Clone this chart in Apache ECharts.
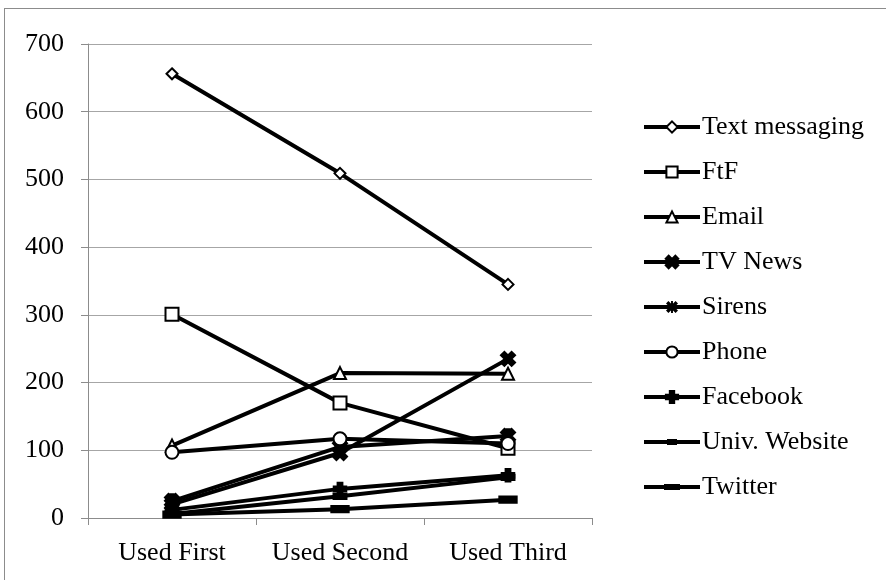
<!DOCTYPE html>
<html>
<head>
<meta charset="utf-8">
<script src="https://cdn.jsdelivr.net/npm/echarts@6/dist/echarts.min.js"></script>
<style>
  html, body { margin: 0; padding: 0; background: #fff; }
  #chart { width: 886px; height: 580px; }
  #frame { position: absolute; left: 4px; top: 8px; width: 900px; height: 600px; border: 1px solid #8c8c8c; pointer-events: none; }
</style>
</head>
<body>
<div id="chart"></div>
<div id="frame"></div>
<script>
// Categories along the x axis
const categories = ['Used First', 'Used Second', 'Used Third'];

// Counts per channel
const textMessaging = [656, 509, 345];
const ftf = [301, 170, 103];
const email = [107, 214, 213];
const tvNews = [20, 96, 235];
const sirens = [25, 105, 121];
const phone = [97, 117, 110];
const facebook = [12, 43, 63];
const univWebsite = [6, 32, 60];
const twitter = [5, 13, 27];

// Y axis scale
const yMin = 0, yMax = 700, yStep = 100;

// Marker outlines on a 10x10 unit box
const xShape = [[[2,0],[5,3],[8,0],[10,2],[7,5],[10,8],[8,10],[5,7],[2,10],[0,8],[3,5],[0,2]]];
const starShape = xShape.concat([[[4.2,0],[5.8,0],[5.8,10],[4.2,10]]]);
const plusShape = [[[3.5,0],[6.5,0],[6.5,3.5],[10,3.5],[10,6.5],[6.5,6.5],[6.5,10],[3.5,10],[3.5,6.5],[0,6.5],[0,3.5],[3.5,3.5]]];

function shapeToPath(shape, dx, dy, s) {
  return shape.map(poly => poly.map((p, i) =>
    (i ? 'L' : 'M') + (dx + p[0] * s).toFixed(2) + ',' + (dy + p[1] * s).toFixed(2)
  ).join(' ') + ' Z').join(' ');
}

// Legend swatch: a 56x14 box with a line through the middle and a marker at the centre
function swatch(markerPath) {
  return 'path://M0,0 M56,14 M0,5 L56,5 L56,9 L0,9 Z ' + markerPath;
}
const swatchBar = (w, h) => swatch('M' + (28 - w / 2) + ',' + (7 - h / 2) + ' L' + (28 + w / 2) + ',' + (7 - h / 2) +
  ' L' + (28 + w / 2) + ',' + (7 + h / 2) + ' L' + (28 - w / 2) + ',' + (7 + h / 2) + ' Z');

const seriesDefs = [
  { name: 'Text messaging', data: textMessaging, symbol: 'emptyDiamond', size: 11 },
  { name: 'FtF', data: ftf, symbol: 'emptyRect', size: 13 },
  { name: 'Email', data: email, symbol: 'emptyTriangle', size: 12 },
  { name: 'TV News', data: tvNews, symbol: 'path://' + shapeToPath(xShape, 0, 0, 1), size: 12 },
  { name: 'Sirens', data: sirens, symbol: 'path://' + shapeToPath(starShape, 0, 0, 1), size: 12,
    legendIcon: swatch(shapeToPath(starShape, 22, 1, 1.2)) },
  { name: 'Phone', data: phone, symbol: 'emptyCircle', size: 13 },
  { name: 'Facebook', data: facebook, symbol: 'path://' + shapeToPath(plusShape, 0, 0, 1), size: 11 },
  { name: 'Univ. Website', data: univWebsite, symbol: 'rect', size: [10, 5], legendIcon: swatchBar(10, 6) },
  { name: 'Twitter', data: twitter, symbol: 'rect', size: [14, 6], legendIcon: swatchBar(16, 6) }
];

const chart = echarts.init(document.getElementById('chart'));

const font = 'Liberation Serif';

chart.setOption({
  animation: false,
  backgroundColor: '#fff',
  grid: { left: 88, right: 294, top: 44, bottom: 62, containLabel: false },
  legend: {
    orient: 'vertical',
    left: 642,
    top: 114,
    padding: 0,
    itemGap: 19,
    itemWidth: 56,
    itemHeight: 14,
    lineStyle: { width: 4, color: '#000' },
    itemStyle: { borderWidth: 3, borderColor: '#000' },
    textStyle: { fontFamily: font, fontSize: 26, color: '#000', padding: [0, 0, 0, -3] },
    data: seriesDefs.map(d => d.legendIcon
      ? { name: d.name, icon: d.legendIcon, itemStyle: { borderWidth: 0, color: '#000' } }
      : { name: d.name })
  },
  xAxis: {
    type: 'category',
    data: categories,
    boundaryGap: true,
    axisLine: { lineStyle: { color: '#8c8c8c', width: 1 } },
    axisTick: { show: true, length: 7, lineStyle: { color: '#8c8c8c' } },
    axisLabel: { interval: 0, fontFamily: font, fontSize: 26, color: '#000', margin: 22 }
  },
  yAxis: {
    type: 'value',
    min: yMin,
    max: yMax,
    interval: yStep,
    axisLine: { show: true, lineStyle: { color: '#8c8c8c', width: 1 } },
    axisTick: { show: true, length: 7, lineStyle: { color: '#8c8c8c' } },
    axisLabel: { fontFamily: font, fontSize: 26, color: '#000', margin: 24 },
    splitLine: { lineStyle: { color: '#a6a6a6', width: 1 } }
  },
  series: seriesDefs.map(d => ({
    name: d.name,
    type: 'line',
    data: d.data,
    symbol: d.symbol,
    symbolSize: d.size,
    showAllSymbol: true,
    lineStyle: { color: '#000', width: 4 },
    itemStyle: { color: '#000', borderColor: '#000', borderWidth: 3.5 },
    emphasis: { disabled: true }
  }))
});
</script>
</body>
</html>
